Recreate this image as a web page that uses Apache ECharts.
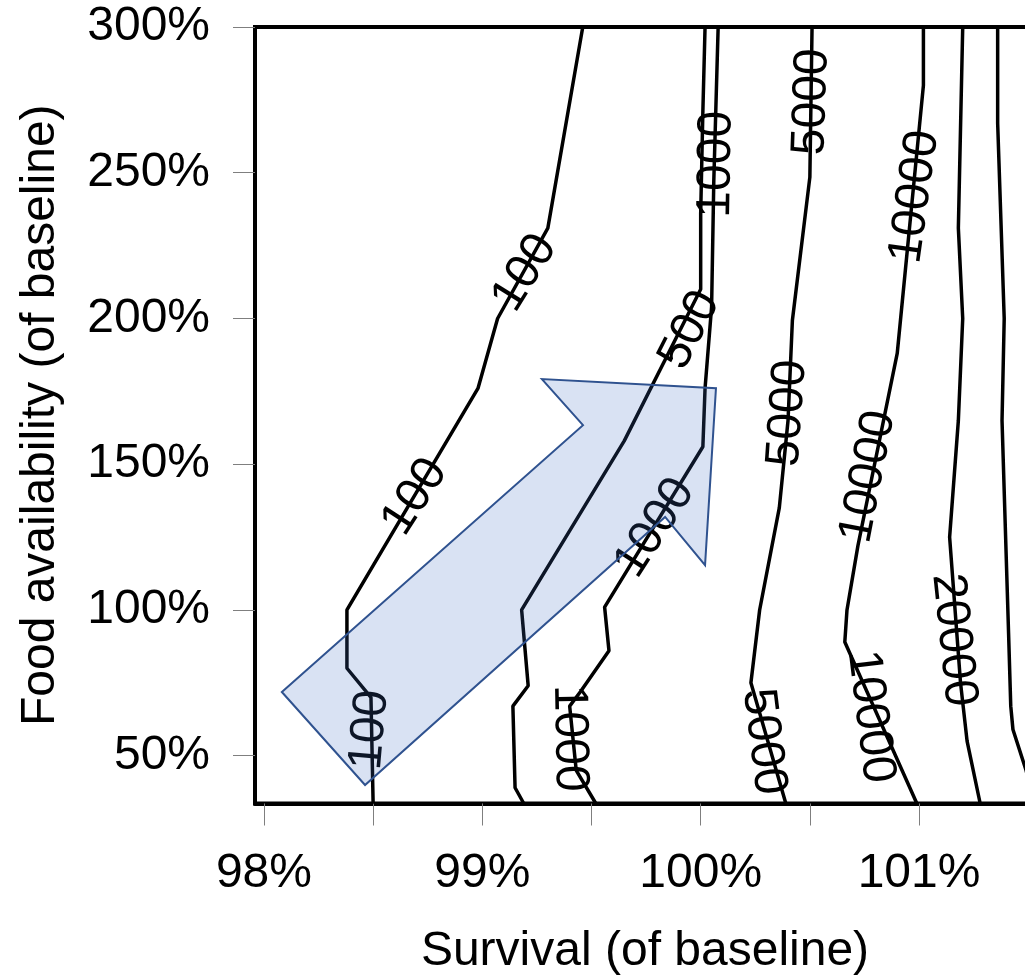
<!DOCTYPE html>
<html><head><meta charset="utf-8">
<script src="https://cdn.jsdelivr.net/npm/echarts@6/dist/echarts.min.js"></script>
<style>html,body{margin:0;padding:0;background:#fff}#c{width:1025px;height:979px}</style>
</head><body><div id="c"></div>
<script>
// ---- data (survival %, food availability %) ----
const contour100   = [[99.46,300],[99.30,231],[99.07,200],[98.98,176],[98.38,100],[98.38,80],[98.49,70],[98.50,33.6]];
const contour500   = [[100.02,300],[100.01,271],[100.00,236],[100.00,210],[99.65,158],[99.18,100],[99.21,74],[99.14,67],[99.15,39],[99.19,33.6]];
const contour1000  = [[100.08,300],[100.06,247],[100.05,204],[100.02,176],[100.01,156],[99.56,101],[99.58,86],[99.45,72],[99.40,67],[99.43,45],[99.52,33.6]];
const contour5000  = [[100.51,300],[100.50,248.5],[100.42,199.4],[100.40,165],[100.36,135],[100.27,100],[100.23,75],[100.39,33.6]];
const contour10000 = [[101.02,300],[101.02,280],[100.90,188],[100.84,166],[100.72,122],[100.67,100],[100.66,89],[100.99,33.6]];
const contour20000 = [[101.20,300],[101.18,231],[101.20,200],[101.18,165],[101.14,125],[101.19,75],[101.22,55],[101.28,33.6]];
const contourRight = [[101.36,300],[101.36,267],[101.39,200],[101.38,165],[101.41,92],[101.42,67],[101.43,59],[101.49,45],[101.53,33.6]];

// label: [survival, food, text, angle in degrees (counter-clockwise)]
const contourLabels = [
  [99.195,215.6,'100',58],
  [98.692,138.8,'100',57],
  [98.486,58.8,'100',85],
  [99.951,196.0,'500',63],
  [100.073,252.9,'1000',89],
  [99.791,128.1,'1000',57],
  [99.398,56.0,'1000',-89],
  [100.509,274.3,'5000',88],
  [100.400,167.5,'5000',86],
  [100.287,54.8,'5000',-83],
  [100.982,241.7,'10000',82],
  [100.768,145.7,'10000',79],
  [100.776,63.4,'10000',-83],
  [101.157,89.7,'20000',-84]
];

const arrowShape = [[98.082,71.85],[99.461,163.4],[99.273,179.2],[100.070,176.1],[100.020,115.4],[99.837,131.9],[98.463,39.95]];

const xTickValues  = [98,98.5,99,99.5,100,100.5,101,101.5];
const xLabelValues = [98,99,100,101];
const yLabelValues = [50,100,150,200,250,300];
const xRange = [97.959,101.531];
const yRange = [33.6,300];

const FONT = '"Liberation Sans", Arial, sans-serif';
const FS = 48;
const chart = echarts.init(document.getElementById('c'), null, {renderer:'canvas'});

function contourSeries(data){
  return {type:'line', data:data, symbol:'none', showSymbol:false, clip:true, z:2,
    lineStyle:{color:'#000', width:3.5}, emphasis:{disabled:true}, silent:true};
}

const option = {
  animation:false,
  grid:{left:255, top:27, right:-10, bottom:175.5, show:true, borderColor:'#000', borderWidth:4,
        containLabel:false, outerBoundsMode:'none'},
  xAxis:{
    type:'value', min:xRange[0], max:xRange[1],
    axisLine:{show:true, onZero:false, lineStyle:{color:'#000', width:4}},
    axisTick:{show:true, length:22, customValues:xTickValues, lineStyle:{color:'#7f7f7f', width:1}},
    axisLabel:{customValues:xLabelValues, formatter:function(v){return v+'%';},
      fontSize:FS, fontFamily:FONT, color:'#000', margin:46},
    splitLine:{show:false},
    name:'Survival (of baseline)', nameLocation:'middle', nameGap:124,
    nameTextStyle:{fontSize:FS, fontFamily:FONT, color:'#000'}
  },
  yAxis:{
    type:'value', min:yRange[0], max:yRange[1],
    axisLine:{show:true, onZero:false, lineStyle:{color:'#000', width:4}},
    axisTick:{show:true, length:22, customValues:yLabelValues, lineStyle:{color:'#7f7f7f', width:1}},
    axisLabel:{customValues:yLabelValues, formatter:function(v){return v+'%';},
      fontSize:FS, fontFamily:FONT, color:'#000', margin:45},
    splitLine:{show:false},
    name:'Food availability (of baseline)', nameLocation:'middle', nameGap:190, nameRotate:90,
    nameTextStyle:{fontSize:FS, fontFamily:FONT, color:'#000'}
  },
  series:[
    contourSeries(contour100),
    contourSeries(contour500),
    contourSeries(contour1000),
    contourSeries(contour5000),
    contourSeries(contour10000),
    contourSeries(contour20000),
    contourSeries(contourRight),
    {
      type:'custom', coordinateSystem:'cartesian2d', z:3, silent:true, clip:false,
      data:contourLabels.map(function(d){return [d[0],d[1]];}),
      renderItem:function(params, api){
        const d = contourLabels[params.dataIndex];
        const p = api.coord([d[0], d[1]]);
        return {type:'text', x:p[0], y:p[1], rotation:d[3]*Math.PI/180,
          style:{text:d[2], x:0, y:0, align:'center', verticalAlign:'middle',
                 fontSize:FS, fontFamily:FONT, fill:'#000'}};
      }
    },
    {
      type:'custom', coordinateSystem:'cartesian2d', z:4, silent:true,
      data:[arrowShape[0]],
      renderItem:function(params, api){
        const pts = arrowShape.map(function(p){return api.coord(p);});
        return {type:'polygon', shape:{points:pts},
          style:{fill:'rgba(65,110,195,0.2)', stroke:'#2F528F', lineWidth:2, lineJoin:'miter'}};
      }
    }
  ]
};
chart.setOption(option);
</script>
</body></html>
